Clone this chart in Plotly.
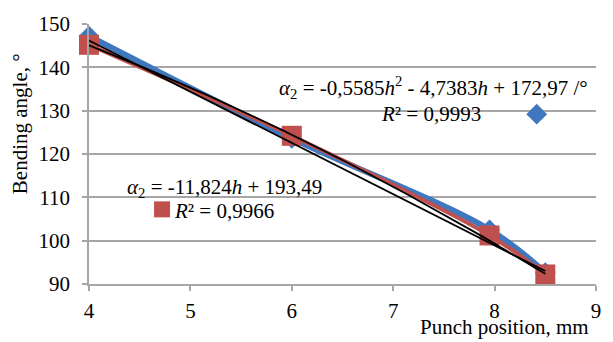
import numpy as np
import plotly.graph_objects as go

# Data
positions = [4.0, 6.0, 7.95, 8.5]
angle_blue = [147.2, 123.6, 102.5, 92.6]
angle_red = [145.2, 124.2, 101.2, 92.2]
poly_coef = [-0.5585, -4.7383, 172.97]
lin_coef = [-11.824, 193.49]
x_ticks = [4, 5, 6, 7, 8, 9]
y_ticks = [90, 100, 110, 120, 130, 140, 150]

BLUE = "#3f78bf"
RED = "#c0504d"
FONT = "Liberation Serif"
FS = 21

xs = np.linspace(positions[0], positions[-1], 60)

fig = go.Figure()
fig.add_trace(go.Scatter(x=positions, y=angle_blue, mode="lines+markers",
                         line=dict(color=BLUE, width=6, shape="spline"),
                         marker=dict(symbol="diamond", size=16, color=BLUE),
                         cliponaxis=False, showlegend=False))
fig.add_trace(go.Scatter(x=positions, y=angle_red, mode="lines+markers",
                         line=dict(color=RED, width=4, shape="spline"),
                         marker=dict(symbol="square", size=20, color=RED),
                         cliponaxis=False, showlegend=False))
fig.add_trace(go.Scatter(x=xs, y=np.polyval(poly_coef, xs), mode="lines",
                         line=dict(color="black", width=1.8),
                         cliponaxis=False, showlegend=False))
fig.add_trace(go.Scatter(x=xs, y=np.polyval(lin_coef, xs), mode="lines",
                         line=dict(color="black", width=1.8),
                         cliponaxis=False, showlegend=False))

# legend keys
fig.add_trace(go.Scatter(x=[None], y=[None], mode="markers", name=" ",
                         marker=dict(symbol="diamond", size=22, color=BLUE),
                         legend="legend"))
fig.add_trace(go.Scatter(x=[None], y=[None], mode="markers", name=" ",
                         marker=dict(symbol="square", size=20, color=RED),
                         legend="legend2"))

fig.update_layout(
    width=613, height=342,
    margin=dict(l=89, r=16, t=15, b=58),
    paper_bgcolor="white", plot_bgcolor="white",
    font=dict(family=FONT, size=FS, color="black"),
    legend=dict(x=0.89, y=0.653, xanchor="center", yanchor="middle",
                bgcolor="rgba(0,0,0,0)", itemwidth=30, font=dict(size=6),
                tracegroupgap=0),
    legend2=dict(x=0.151, y=0.287, xanchor="center", yanchor="middle",
                 bgcolor="rgba(0,0,0,0)", itemwidth=30, font=dict(size=6),
                 tracegroupgap=0),
    xaxis=dict(range=[4, 9], tickvals=x_ticks, showgrid=False,
               showline=True, linecolor="#a6a6a6", linewidth=1.5,
               ticks="outside", ticklen=5, tickcolor="#a6a6a6", tickwidth=1.5,
               zeroline=False, ticklabelstandoff=2,
               tickfont=dict(family=FONT, size=FS)),
    yaxis=dict(range=[90, 150], tickvals=y_ticks, showgrid=True,
               gridcolor="#a6a6a6", gridwidth=1.5,
               showline=True, linecolor="#a6a6a6", linewidth=1.5,
               ticks="outside", ticklen=5, tickcolor="#a6a6a6", tickwidth=1.5,
               zeroline=False, ticklabelstandoff=8,
               tickfont=dict(family=FONT, size=FS)),
)

ann = dict(xref="paper", yref="paper", showarrow=False,
           xanchor="center", yanchor="middle",
           font=dict(family=FONT, size=FS, color="black"))
fig.add_annotation(x=-0.136, y=0.615, text="Bending angle, °", textangle=-90, **ann)
fig.add_annotation(x=0.82, y=-0.165, text="Punch position, mm", **ann)
fig.add_annotation(x=0.679, y=0.755,
                   text="<i>α</i><sub>2</sub> = -0,5585<i>h</i><sup>2</sup> - 4,7383<i>h</i> + 172,97 /°",
                   **ann)
fig.add_annotation(x=0.675, y=0.655, text="<i>R</i>² = 0,9993", **ann)
fig.add_annotation(x=0.268, y=0.37,
                   text="<i>α</i><sub>2</sub> = -11,824<i>h</i> + 193,49", **ann)
fig.add_annotation(x=0.267, y=0.282, text="<i>R</i>² = 0,9966", **ann)

fig.write_html("out.html")
